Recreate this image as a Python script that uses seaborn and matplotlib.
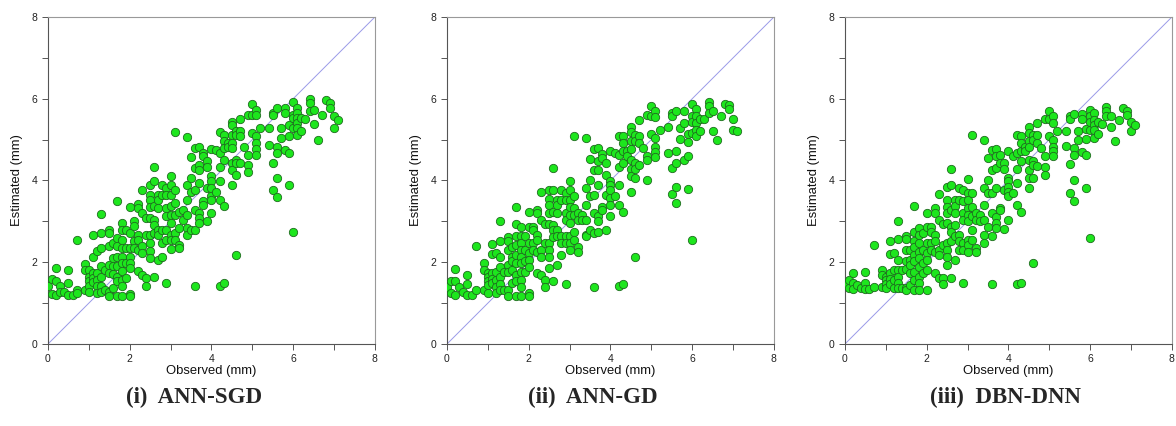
import matplotlib
matplotlib.use("Agg")
import matplotlib.pyplot as plt
from matplotlib.ticker import MultipleLocator
import pandas as pd
import seaborn as sns

sns.set_style("white")
plt.rcParams["font.family"] = ["Liberation Sans", "DejaVu Sans"]

# Observed values appear on a 0.1 mm grid; the same observations feed all three models.
OBS_LEVELS = [0.0, 0.1, 0.2, 0.3, 0.4, 0.5, 0.6, 0.7, 0.9, 1.0, 1.1, 1.2, 1.3, 1.4,
              1.5, 1.6, 1.7, 1.8, 1.9, 2.0, 2.1, 2.2, 2.3, 2.4, 2.5, 2.6, 2.7, 2.8,
              2.9, 3.0, 3.1, 3.2, 3.3, 3.4, 3.5, 3.6, 3.7, 3.8, 3.9, 4.0, 4.1, 4.2,
              4.3, 4.4, 4.5, 4.6, 4.7, 4.8, 4.9, 5.0, 5.1, 5.2, 5.4, 5.5, 5.6, 5.7,
              5.8, 5.9, 6.0, 6.1, 6.2, 6.3, 6.4, 6.5, 6.6, 6.7, 6.8, 6.9, 7.0, 7.1]

# estimated values (mm) for each observed level, one list per model
EST_SGD = [
    [1.41], [1.59, 1.23], [1.86, 1.55, 1.20], [1.41, 1.28], [1.28],
    [1.82, 1.49, 1.20], [1.20], [2.55, 1.31, 1.25], [1.96, 1.82, 1.31],
    [1.80, 1.65, 1.53, 1.41, 1.26], [2.67, 2.14, 1.74, 1.61, 1.51],
    [2.27, 1.74, 1.57, 1.43, 1.25], [3.18, 2.72, 2.35, 1.90, 1.65, 1.41, 1.27],
    [1.82, 1.33], [2.80, 2.72, 2.39, 1.94, 1.74, 1.26, 1.17],
    [2.47, 2.10, 1.90, 1.72, 1.37], [3.49, 2.59, 2.39, 2.14, 1.90, 1.65, 1.53, 1.17],
    [2.96, 2.80, 2.55, 2.35, 2.14, 1.98, 1.78, 1.57, 1.41, 1.17],
    [2.80, 2.35, 1.98, 1.61], [3.34, 2.72, 2.35, 2.14, 1.98, 1.86, 1.23, 1.17],
    [3.00, 2.88, 2.51, 2.35], [3.42, 3.33, 2.67, 2.55, 2.31, 1.78],
    [3.77, 3.20, 2.39, 2.22, 1.70], [3.08, 2.67, 1.61, 1.41],
    [3.90, 3.65, 3.53, 3.35, 3.08, 2.67, 2.47, 2.27, 2.10],
    [4.34, 3.98, 3.37, 3.04, 2.92, 2.71, 1.65], [3.65, 3.53, 3.33, 2.80, 2.67, 2.06],
    [3.90, 3.65, 2.80, 2.47, 2.14], [3.81, 3.65, 3.33, 3.12, 2.80, 2.55, 1.49],
    [4.11, 3.90, 3.65, 3.37, 3.16, 2.96, 2.67, 2.55, 2.32],
    [5.18, 3.76, 3.45, 3.16, 2.71, 2.55], [3.24, 2.84, 2.43, 2.35], [3.28, 3.04],
    [5.06, 3.90, 3.53, 3.16, 2.84, 2.67], [4.57, 4.06, 3.73, 2.80],
    [4.79, 4.30, 3.77, 3.28, 2.80, 1.43], [4.83, 4.38, 4.26, 3.94, 3.20, 3.08, 2.96],
    [4.67, 4.59, 3.49, 3.41], [4.47, 4.34, 3.81, 3.00],
    [4.78, 4.10, 3.98, 3.81, 3.61, 3.53, 3.20], [4.75, 3.73],
    [5.18, 4.67, 4.34, 3.98, 3.53, 1.43], [5.12, 4.96, 4.79, 4.51, 3.38, 1.49],
    [4.92, 4.83], [5.44, 5.36, 5.12, 4.92, 4.79, 4.43, 4.26, 3.90],
    [5.20, 5.12, 4.51, 4.43, 4.14, 2.17], [5.50, 5.20, 5.08, 4.43], [4.83],
    [5.61, 4.63, 4.38, 4.20], [5.88, 5.61, 5.16], [5.73, 5.61, 5.08, 4.92, 4.77, 4.63],
    [5.28], [5.28, 4.87], [5.66, 5.61, 4.43, 3.77], [5.77, 4.83, 4.67, 4.06, 3.59],
    [5.28, 5.04], [5.77, 5.65, 4.74], [5.36, 5.08, 4.67, 3.90],
    [5.93, 5.61, 5.53, 5.28, 2.75], [5.77, 5.65, 5.53, 5.40, 5.28, 5.12],
    [5.53, 5.20], [5.50], [6.00, 5.89, 5.69], [5.73, 5.39], [5.00], [5.61],
    [5.97], [5.89, 5.77], [5.57, 5.28], [5.47],
]

EST_GD = [
    [1.39], [1.55, 1.24], [1.83, 1.53, 1.20], [1.39], [1.27],
    [1.68, 1.47, 1.20], [1.20], [2.40, 1.31], [1.98, 1.80, 1.31],
    [1.73, 1.65, 1.53, 1.44, 1.24], [2.45, 2.20, 1.73, 1.58, 1.49],
    [2.22, 1.77, 1.57, 1.40, 1.24], [3.02, 2.53, 2.12, 1.89, 1.65, 1.47, 1.32],
    [1.77, 1.32], [2.61, 2.51, 2.29, 1.93, 1.77, 1.32, 1.18],
    [2.38, 2.14, 2.02, 1.80, 1.49], [3.34, 2.94, 2.63, 2.42, 2.18, 1.98, 1.69, 1.53, 1.18],
    [2.87, 2.63, 2.47, 2.30, 2.14, 1.98, 1.77, 1.57, 1.40, 1.18],
    [2.63, 2.30, 2.02, 1.77], [3.22, 2.87, 2.47, 2.22, 2.06, 1.89, 1.24, 1.18],
    [2.87, 2.79, 2.47, 2.30], [3.28, 3.20, 2.67, 2.55, 2.26, 1.73],
    [3.71, 3.04, 2.30, 2.14, 1.69], [2.94, 2.48, 1.57, 1.39],
    [3.77, 3.54, 3.40, 3.20, 2.94, 2.47, 2.30, 2.14, 1.85],
    [4.30, 3.77, 3.24, 2.91, 2.79, 2.61, 1.53], [3.53, 3.40, 3.20, 2.79, 2.63, 1.93],
    [3.77, 3.53, 2.63, 2.47, 2.18], [3.69, 3.53, 3.20, 3.04, 2.63, 2.47, 1.47],
    [3.98, 3.77, 3.53, 3.36, 3.16, 2.96, 2.63, 2.47, 2.30],
    [5.08, 3.61, 3.32, 3.16, 2.75, 2.55], [3.20, 3.04, 2.38, 2.26], [3.16, 3.04],
    [5.04, 3.81, 3.40, 3.04, 2.67, 2.63], [4.53, 4.02, 3.61, 2.79],
    [4.77, 4.26, 3.65, 3.20, 2.71, 1.40], [4.79, 4.47, 4.26, 3.89, 3.12, 3.00, 2.75],
    [4.65, 4.55, 3.36, 3.28], [4.44, 4.14, 3.65, 2.79],
    [4.71, 3.98, 3.89, 3.77, 3.57, 3.40, 3.12], [4.67, 3.61],
    [5.09, 4.63, 4.33, 3.89, 3.40, 1.42], [5.08, 4.91, 4.71, 4.42, 3.24, 1.47],
    [4.71, 4.59], [5.32, 5.18, 4.96, 4.77, 4.51, 4.28, 4.10, 3.71],
    [5.12, 4.96, 4.42, 4.28, 4.05, 2.14], [5.47, 5.08, 4.91, 4.38], [4.79],
    [5.61, 4.60, 4.51, 4.02], [5.83, 5.58, 5.14], [5.71, 5.55, 5.04, 4.83, 4.69, 4.57],
    [5.24], [5.32, 4.67], [5.65, 5.58, 4.30, 3.67], [5.69, 4.73, 4.42, 3.85, 3.44],
    [5.28, 5.01], [5.69, 5.40, 4.51], [5.14, 4.93, 4.59, 3.79],
    [5.88, 5.58, 5.42, 5.16, 2.55], [5.75, 5.57, 5.40, 5.24, 5.08],
    [5.50, 5.20], [5.50], [5.93, 5.83, 5.65], [5.69, 5.22], [4.98], [5.58],
    [5.88], [5.85, 5.75], [5.50, 5.24], [5.22],
]

EST_DBN = [
    [1.47], [1.57, 1.36], [1.73, 1.49, 1.34], [1.44], [1.36],
    [1.77, 1.49, 1.34], [1.34], [2.42, 1.39], [1.81, 1.69, 1.39],
    [1.65, 1.57, 1.47, 1.36], [2.51, 2.20, 1.73, 1.58, 1.47],
    [2.22, 1.81, 1.57, 1.36], [3.02, 2.56, 2.06, 1.80, 1.65, 1.49, 1.36],
    [1.81, 1.36], [2.64, 2.56, 2.29, 2.02, 1.83, 1.36, 1.32],
    [2.30, 2.06, 1.93, 1.73, 1.44], [3.38, 2.75, 2.51, 2.38, 2.18, 2.02, 1.77, 1.57, 1.32],
    [2.83, 2.67, 2.47, 2.26, 2.10, 1.89, 1.65, 1.49, 1.32],
    [2.71, 2.30, 1.98, 1.73], [3.20, 2.87, 2.47, 2.22, 2.06, 1.81, 1.32],
    [2.87, 2.75, 2.47, 2.30], [3.32, 3.20, 2.67, 2.51, 2.26, 1.73],
    [3.67, 3.04, 2.30, 2.18, 1.61], [2.94, 2.42, 1.61, 1.47],
    [3.85, 3.53, 3.36, 3.20, 2.96, 2.47, 2.30, 2.14, 1.93],
    [4.28, 3.89, 3.28, 2.87, 2.75, 2.51, 1.61], [3.53, 3.38, 3.20, 2.91, 2.63, 2.06],
    [3.81, 3.53, 2.67, 2.51, 2.30], [3.77, 3.49, 3.20, 3.04, 2.47, 2.30, 1.49],
    [4.04, 3.69, 3.53, 3.32, 3.16, 3.00, 2.55, 2.42, 2.26],
    [5.12, 3.69, 3.36, 3.12, 2.79, 2.55], [3.20, 3.04, 2.34, 2.26], [3.16, 3.00],
    [5.00, 3.81, 3.40, 3.04, 2.67, 2.47], [4.55, 4.02, 3.69, 2.87],
    [4.75, 4.26, 3.69, 3.20, 2.64, 1.47], [4.78, 4.59, 4.30, 3.81, 3.10, 2.96, 2.83],
    [4.63, 4.42, 3.32, 3.28], [4.42, 4.28, 3.77, 2.81],
    [4.71, 4.06, 3.98, 3.85, 3.73, 3.61, 3.04], [4.59, 3.69],
    [5.12, 4.67, 4.28, 3.93, 3.40, 1.47], [5.08, 4.91, 4.71, 4.47, 3.22, 1.49],
    [4.83, 4.71], [5.32, 5.16, 4.96, 4.83, 4.51, 4.26, 4.06, 3.81],
    [5.12, 5.00, 4.47, 4.38, 4.06, 1.99], [5.40, 5.12, 4.91, 4.36], [4.79],
    [5.50, 4.59, 4.33, 4.14], [5.69, 5.50, 5.09], [5.57, 5.40, 5.00, 4.83, 4.71, 4.60],
    [5.20], [5.22, 4.85], [5.57, 5.50, 4.40, 3.69], [5.63, 4.79, 4.63, 4.02, 3.51],
    [5.22, 5.00], [5.63, 5.50, 4.69], [5.26, 5.01, 4.63, 3.81],
    [5.73, 5.57, 5.42, 5.24, 2.60], [5.65, 5.49, 5.36, 5.24, 5.04],
    [5.42, 5.14], [5.39], [5.80, 5.69, 5.57], [5.58, 5.31], [4.96], [5.49],
    [5.77], [5.69, 5.61], [5.44, 5.20], [5.36],
]

MODELS = ["ANN-SGD", "ANN-GD", "DBN-DNN"]
PANEL_TITLES = ["(i)  ANN-SGD", "(ii)  ANN-GD", "(iii)  DBN-DNN"]
TICKS = [0, 2, 4, 6, 8]


def to_frame(est_lists):
    rows = [(x, y) for x, ys in zip(OBS_LEVELS, est_lists) for y in ys]
    return pd.DataFrame(rows, columns=["observed", "estimated"])


frames = {m: to_frame(e) for m, e in zip(MODELS, [EST_SGD, EST_GD, EST_DBN])}

fig = plt.figure(figsize=(11.76, 4.26), dpi=100)
lefts = [0.0408, 0.3801, 0.7185]
title_x = [0.165, 0.504, 0.855]

for i, model in enumerate(MODELS):
    ax = fig.add_axes([lefts[i], 0.1925, 0.278, 0.7676])
    ax.axline((0, 0), slope=1, color="#9a9ae8", lw=0.7, zorder=1)
    sns.scatterplot(
        data=frames[model], x="observed", y="estimated", ax=ax,
        s=36, color="#1de61d", edgecolor="#1f6b1f", linewidth=0.6,
        zorder=3, legend=False,
    )
    ax.set_xlim(0, 8)
    ax.set_ylim(0, 8)
    ax.set_xticks(TICKS)
    ax.set_yticks(TICKS)
    ax.xaxis.set_minor_locator(MultipleLocator(1))
    ax.yaxis.set_minor_locator(MultipleLocator(1))
    ax.tick_params(which="both", direction="out", length=4, width=0.7,
                   color="#555555", labelsize=7.5, labelcolor="#222222",
                   bottom=True, left=True)
    ax.tick_params(axis="x", pad=3)
    for side, sp in ax.spines.items():
        sp.set_linewidth(0.8)
        sp.set_color("#555555" if side in ("left", "bottom") else "#999999")
    ax.set_xlabel("Observed (mm)", fontsize=9.4, labelpad=1, color="#111111")
    ax.set_ylabel("Estimated (mm)", fontsize=9.4, labelpad=6, color="#111111")
    fig.text(title_x[i], 0.066, PANEL_TITLES[i], ha="center", va="center",
             fontsize=16.5, fontweight="bold", family=["Liberation Serif", "DejaVu Serif"])

fig.savefig("out.png", dpi=100)
